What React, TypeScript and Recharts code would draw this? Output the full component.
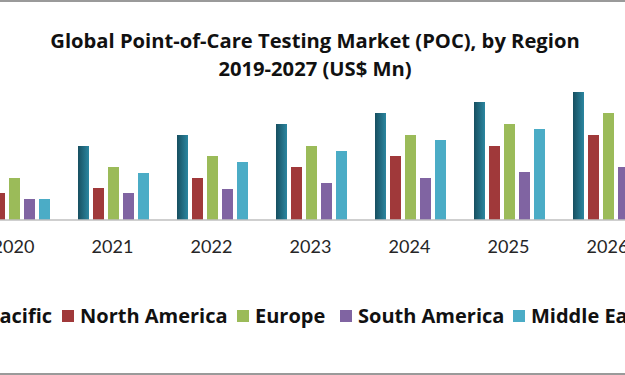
import { BarChart, Bar, XAxis, YAxis, Legend } from 'recharts';

const years = ['2019', '2020', '2021', '2022', '2023', '2024', '2025', '2026', '2027'];
const asiaPacific = [53, 64, 74, 85, 96, 107, 118, 128, 139];
const northAmerica = [21, 27, 32, 42, 53, 64, 74, 85, 96];
const europe = [32, 42, 53, 64, 74, 85, 96, 107, 118];
const southAmerica = [16, 21, 27, 31, 37, 42, 48, 53, 59];
const middleEast = [12, 21, 47, 58, 69, 80, 91, 101, 112];

const series = [
  { key: 'asiaPacific', name: 'Asia Pacific', color: '#215f73', fill: 'url(#tealGrad)' },
  { key: 'northAmerica', name: 'North America', color: '#a0393a', fill: '#a0393a' },
  { key: 'europe', name: 'Europe', color: '#9bbb59', fill: '#9bbb59' },
  { key: 'southAmerica', name: 'South America', color: '#8064a2', fill: '#8064a2' },
  { key: 'middleEast', name: 'Middle East & Africa', color: '#4bacc6', fill: '#4bacc6' },
];

const data = years.map((year, i) => ({
  year,
  asiaPacific: asiaPacific[i],
  northAmerica: northAmerica[i],
  europe: europe[i],
  southAmerica: southAmerica[i],
  middleEast: middleEast[i],
}));

// the picture is a crop of a wider chart, so the chart is shifted left
const SHIFT = 135;
const FONT = 'Lato, "Open Sans", sans-serif';
const BOLD_FONT = '"Open Sans", Lato, sans-serif';
// left edge of each legend square, in page pixels (first one is anchored at its right end)
const legendX = [52, 62, 237, 340, 513];

const LegendContent = () => (
  <div style={{ position: 'relative', width: 625, height: 24, fontFamily: BOLD_FONT, fontWeight: 700, fontSize: 20, color: '#111' }}>
    {series.map((s, i) => (
      <div
        key={s.key}
        style={{
          position: 'absolute',
          left: legendX[i],
          top: 0,
          display: 'flex',
          alignItems: 'center',
          whiteSpace: 'nowrap',
          transform: i === 0 ? 'translateX(-100%)' : undefined,
          lineHeight: '24px',
        }}
      >
        <span style={{ width: 12, height: 12, background: s.color, marginRight: 6, display: 'inline-block' }} />
        <span>{s.name}</span>
      </div>
    ))}
  </div>
);

export default function App() {
  return (
    <div
      style={{
        position: 'absolute',
        left: 0,
        top: 0,
        width: 625,
        height: 375,
        overflow: 'hidden',
        background: '#fff',
        boxSizing: 'border-box',
        borderTop: '2px solid #9a9a9a',
        borderBottom: '2px solid #9a9a9a',
      }}
    >
      <div
        style={{
          position: 'absolute',
          left: 0,
          top: 24,
          width: 630,
          textAlign: 'center',
          fontFamily: BOLD_FONT,
          fontWeight: 700,
          fontSize: 20.2,
          lineHeight: '28px',
          color: '#111',
        }}
      >
        Global Point-of-Care Testing Market (POC), by Region
        <br />
        2019-2027 (US$ Mn)
      </div>
      <div style={{ position: 'absolute', left: -SHIFT, top: -2 }}>
        <BarChart
          width={891}
          height={375}
          data={data}
          margin={{ top: 20, right: 0, left: 0, bottom: 125 }}
          barCategoryGap={15}
          barGap={4}
        >
          <defs>
            <linearGradient id="tealGrad" x1="0" y1="0" x2="1" y2="0">
              <stop offset="0%" stopColor="#174f60" />
              <stop offset="100%" stopColor="#2b86a0" />
            </linearGradient>
          </defs>
          <XAxis
            dataKey="year"
            height={30}
            tickLine={false}
            tickMargin={14}
            axisLine={{ stroke: '#bfbfbf', strokeWidth: 1.5 }}
            tick={{ fill: '#262626', fontSize: 18, fontFamily: FONT }}
          />
          <YAxis hide domain={[0, 200]} />
          <Legend
            layout="vertical"
            align="center"
            verticalAlign="middle"
            content={<LegendContent />}
            wrapperStyle={{ left: SHIFT, top: 304, width: 625, height: 24 }}
          />
          {series.map((s) => (
            <Bar key={s.key} dataKey={s.key} name={s.name} fill={s.fill} isAnimationActive={false} />
          ))}
        </BarChart>
      </div>
    </div>
  );
}
